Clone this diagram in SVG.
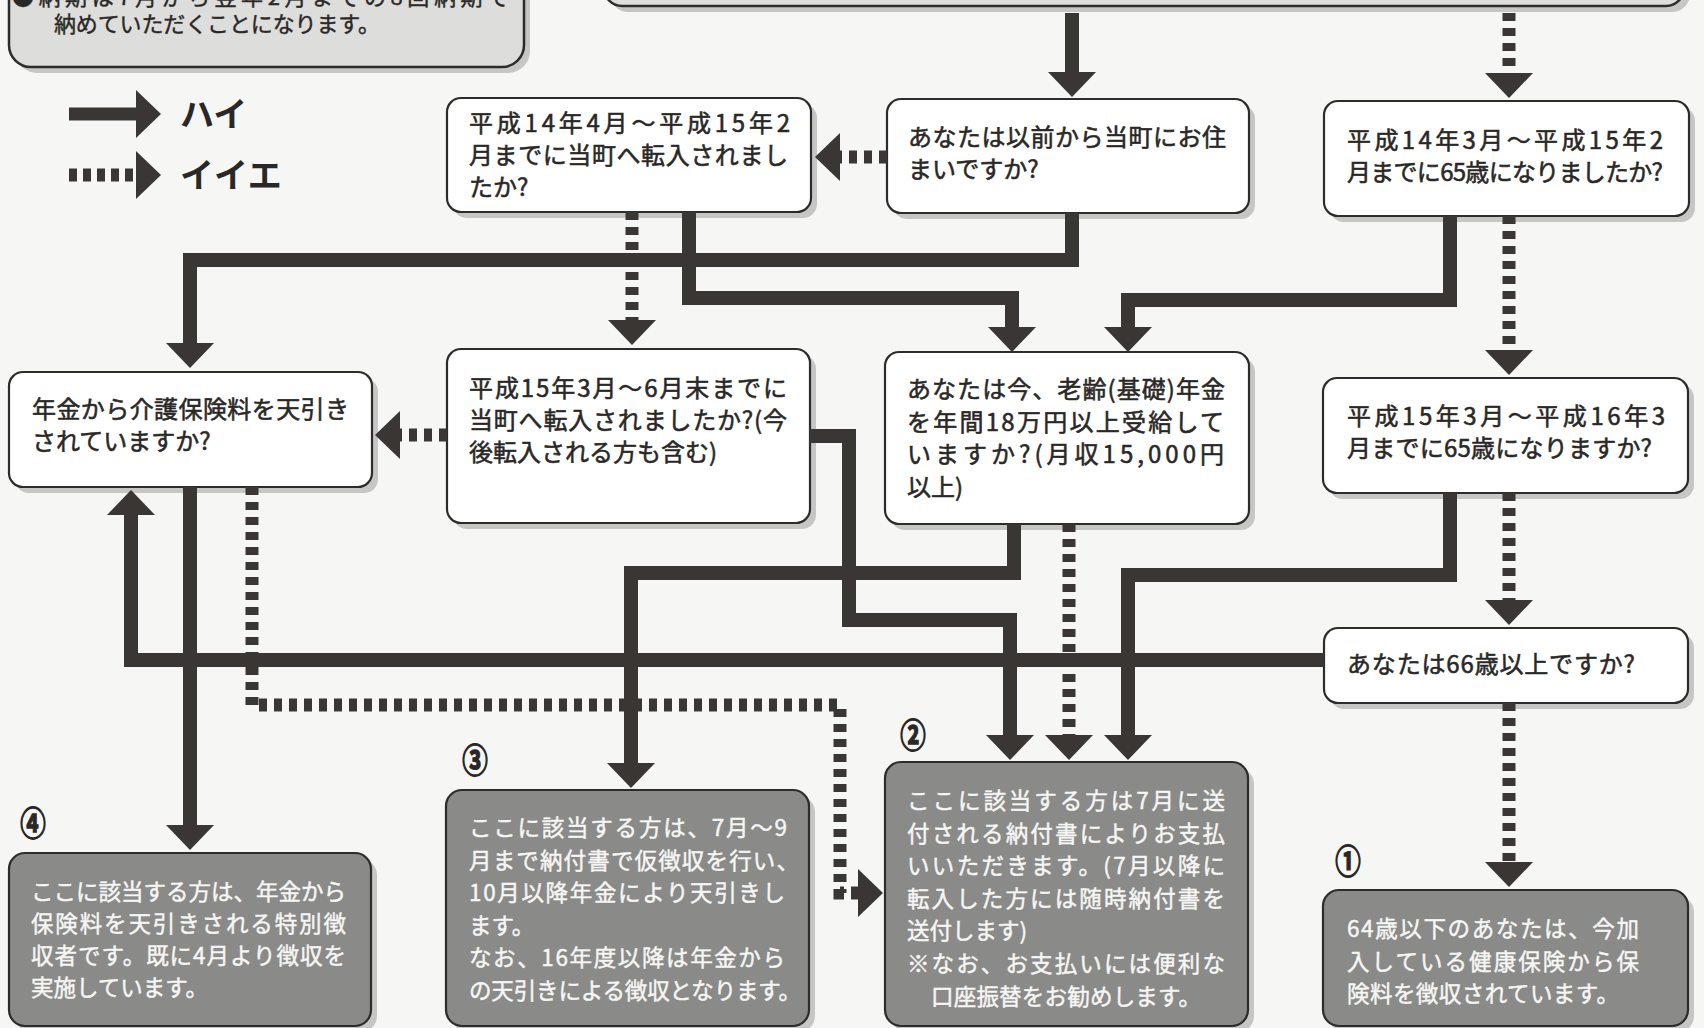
<svg xmlns="http://www.w3.org/2000/svg" width="1704" height="1028" viewBox="0 0 1704 1028">
<defs>
<style>
.bg{fill:#f6f6f4}
.sh{fill:#c6c6c4}
.nb{fill:#ffffff;stroke:#2e2c2a;stroke-width:2.2}
.rb{fill:#8a8a88;stroke:#2e2c2a;stroke-width:2.2}
.tb{fill:#dddddb;stroke:#2e2c2a;stroke-width:2.5}
.q{font-family:"Noto Sans CJK JP","Noto Sans",sans-serif;font-size:24px;fill:#2a2826;stroke:#2a2826;stroke-width:0.55}
.r{font-family:"Noto Sans CJK JP","Noto Sans",sans-serif;font-size:22.5px;fill:#f6f6f4;stroke:#f6f6f4;stroke-width:0.45}
.t{font-family:"Noto Sans CJK JP","Noto Sans",sans-serif;font-size:22px;fill:#2a2826;stroke:#2a2826;stroke-width:0.4}
.lg{font-family:"Noto Sans CJK JP","Noto Sans",sans-serif;font-size:34px;font-weight:bold;fill:#2a2826}
.num{font-family:"Noto Sans CJK JP","Noto Sans",sans-serif;font-size:34px;font-weight:bold;fill:#2a2826;stroke:#2a2826;stroke-width:1.3;text-anchor:middle}
.s{fill:none;stroke:#3a3633;stroke-width:14;stroke-linejoin:miter;marker-end:url(#ah)}
.d{fill:none;stroke:#3a3633;stroke-width:13;stroke-dasharray:8 7;marker-end:url(#ah)}
</style>
<marker id="ah" viewBox="0 0 25 48" refX="1" refY="24" markerWidth="25" markerHeight="48" markerUnits="userSpaceOnUse" orient="auto">
<path d="M0,0 L25,24 L0,48 Z" fill="#3a3633"/>
</marker>
</defs>
<rect class="bg" x="0" y="0" width="1704" height="1028"/>

<g id="top-note">
<rect class="sh" x="15" y="-40" width="515" height="113" rx="22"/>
<rect class="tb" x="9" y="-46" width="515" height="113" rx="22"/>
<text class="t" x="12" y="5" textLength="497">●納期は7月から翌年2月までの8回納期で</text>
<text class="t" x="54" y="32" textLength="326">納めていただくことになります。</text>
</g>

<g id="top-box">
<rect class="sh" x="610" y="-54" width="1080" height="66" rx="18"/>
<rect class="tb" x="604" y="-60" width="1080" height="66" rx="18"/>
</g>

<g id="legend">
<path d="M69,114 H137" fill="none" stroke="#3a3633" stroke-width="13" marker-end="url(#ah)"/>
<text class="lg" x="180" y="127">ハイ</text>
<path d="M69,175 H137" fill="none" stroke="#3a3633" stroke-width="13" stroke-dasharray="8 6" marker-end="url(#ah)"/>
<text class="lg" x="180" y="188">イイエ</text>
</g>

<g id="nodeA">
<rect class="sh" x="453" y="104" width="364" height="114" rx="14"/>
<rect class="nb" x="447" y="98" width="364" height="114" rx="14"/>
<text class="q" x="469" y="132" textLength="321">平成14年4月～平成15年2</text>
<text class="q" x="469" y="164" textLength="319">月までに当町へ転入されまし</text>
<text class="q" x="469" y="196">たか?</text>
</g>

<g id="nodeB">
<rect class="sh" x="893" y="105" width="362" height="114" rx="14"/>
<rect class="nb" x="887" y="99" width="362" height="114" rx="14"/>
<text class="q" x="908" y="146" textLength="318">あなたは以前から当町にお住</text>
<text class="q" x="908" y="178">まいですか?</text>
</g>

<g id="nodeC">
<rect class="sh" x="1330" y="107" width="365" height="115" rx="14"/>
<rect class="nb" x="1324" y="101" width="365" height="115" rx="14"/>
<text class="q" x="1347" y="149" textLength="316">平成14年3月～平成15年2</text>
<text class="q" x="1347" y="181" textLength="316">月までに65歳になりましたか?</text>
</g>

<g id="nodeD">
<rect class="sh" x="15" y="378" width="363" height="115" rx="14"/>
<rect class="nb" x="9" y="372" width="363" height="115" rx="14"/>
<text class="q" x="32" y="418" textLength="317">年金から介護保険料を天引き</text>
<text class="q" x="32" y="450">されていますか?</text>
</g>

<g id="nodeE">
<rect class="sh" x="453" y="355" width="363" height="174" rx="14"/>
<rect class="nb" x="447" y="349" width="363" height="174" rx="14"/>
<text class="q" x="469" y="397" textLength="318">平成15年3月～6月末までに</text>
<text class="q" x="469" y="429" textLength="318">当町へ転入されましたか?(今</text>
<text class="q" x="469" y="461" textLength="248">後転入される方も含む)</text>
</g>

<g id="nodeF">
<rect class="sh" x="891" y="358" width="364" height="172" rx="14"/>
<rect class="nb" x="885" y="352" width="364" height="172" rx="14"/>
<text class="q" x="907" y="398" textLength="318">あなたは今、老齢(基礎)年金</text>
<text class="q" x="907" y="431" textLength="317">を年間18万円以上受給して</text>
<text class="q" x="907" y="463" textLength="317">いますか?(月収15,000円</text>
<text class="q" x="907" y="496">以上)</text>
</g>

<g id="nodeG">
<rect class="sh" x="1329" y="384" width="365" height="115" rx="14"/>
<rect class="nb" x="1323" y="378" width="365" height="115" rx="14"/>
<text class="q" x="1347" y="425" textLength="318">平成15年3月～平成16年3</text>
<text class="q" x="1347" y="457" textLength="305">月までに65歳になりますか?</text>
</g>

<g id="nodeH">
<rect class="sh" x="1330" y="634" width="364" height="75" rx="14"/>
<rect class="nb" x="1324" y="628" width="364" height="75" rx="14"/>
<text class="q" x="1347" y="673" textLength="288">あなたは66歳以上ですか?</text>
</g>

<g id="result4">
<text class="num" transform="translate(33 836) scale(0.75 1)">④</text>
<rect class="sh" x="15" y="859" width="362" height="173" rx="16"/>
<rect class="rb" x="9" y="853" width="362" height="173" rx="16"/>
<text class="r" x="31" y="900" textLength="315">ここに該当する方は、年金から</text>
<text class="r" x="31" y="932" textLength="315">保険料を天引きされる特別徴</text>
<text class="r" x="31" y="964" textLength="315">収者です。既に4月より徴収を</text>
<text class="r" x="31" y="996">実施しています。</text>
</g>

<g id="result3">
<text class="num" transform="translate(475 773) scale(0.75 1)">③</text>
<rect class="sh" x="452" y="796" width="363" height="236" rx="16"/>
<rect class="rb" x="446" y="790" width="363" height="236" rx="16"/>
<text class="r" x="469" y="836" textLength="318">ここに該当する方は、7月～9</text>
<text class="r" x="469" y="869" textLength="330">月まで納付書で仮徴収を行い、</text>
<text class="r" x="469" y="901" textLength="316">10月以降年金により天引きし</text>
<text class="r" x="469" y="934">ます。</text>
<text class="r" x="469" y="966" textLength="316">なお、16年度以降は年金から</text>
<text class="r" x="469" y="999" textLength="332">の天引きによる徴収となります。</text>
</g>

<g id="result2">
<text class="num" transform="translate(913 748) scale(0.75 1)">②</text>
<rect class="sh" x="891" y="768" width="363" height="264" rx="16"/>
<rect class="rb" x="885" y="762" width="363" height="264" rx="16"/>
<text class="r" x="907" y="809" textLength="318">ここに該当する方は7月に送</text>
<text class="r" x="907" y="842" textLength="318">付される納付書によりお支払</text>
<text class="r" x="907" y="874" textLength="318">いいただきます。(7月以降に</text>
<text class="r" x="907" y="907" textLength="318">転入した方には随時納付書を</text>
<text class="r" x="907" y="939">送付します)</text>
<text class="r" x="907" y="972" textLength="318">※なお、お支払いには便利な</text>
<text class="r" x="931" y="1005" textLength="270">口座振替をお勧めします。</text>
</g>

<g id="result1">
<text class="num" transform="translate(1348 874) scale(0.75 1)">①</text>
<rect class="sh" x="1329" y="896" width="365" height="136" rx="16"/>
<rect class="rb" x="1323" y="890" width="365" height="136" rx="16"/>
<text class="r" x="1347" y="937" textLength="292">64歳以下のあなたは、今加</text>
<text class="r" x="1347" y="970" textLength="292">入している健康保険から保</text>
<text class="r" x="1347" y="1002" textLength="272">険料を徴収されています。</text>
</g>

<g id="connectors">
<path class="s" d="M1072,13 V73"/>
<path class="s" d="M1072,213 V260 H190 V344"/>
<path class="s" d="M689,212 V298 H1012 V328"/>
<path class="s" d="M1450,216 V300 H1128 V328"/>
<path class="s" d="M190,487 V826"/>
<path class="s" d="M810,436 H849 V620 H1010 V736"/>
<path class="s" d="M1014,524 V573 H631 V764"/>
<path class="s" d="M1450,493 V575 H1128 V736"/>
<path class="s" d="M1324,660 H131 V514"/>
<path class="d" d="M1509,13 V74"/>
<path class="d" d="M887,157 H839"/>
<path class="d" d="M632,212 V321"/>
<path class="d" d="M447,435 H399"/>
<path class="d" d="M252,487 V705 H840 V893 H859"/>
<path class="d" d="M1069,524 V736"/>
<path class="d" d="M1509,216 V351"/>
<path class="d" d="M1509,493 V601"/>
<path class="d" d="M1509,703 V863"/>
</g>
</svg>
